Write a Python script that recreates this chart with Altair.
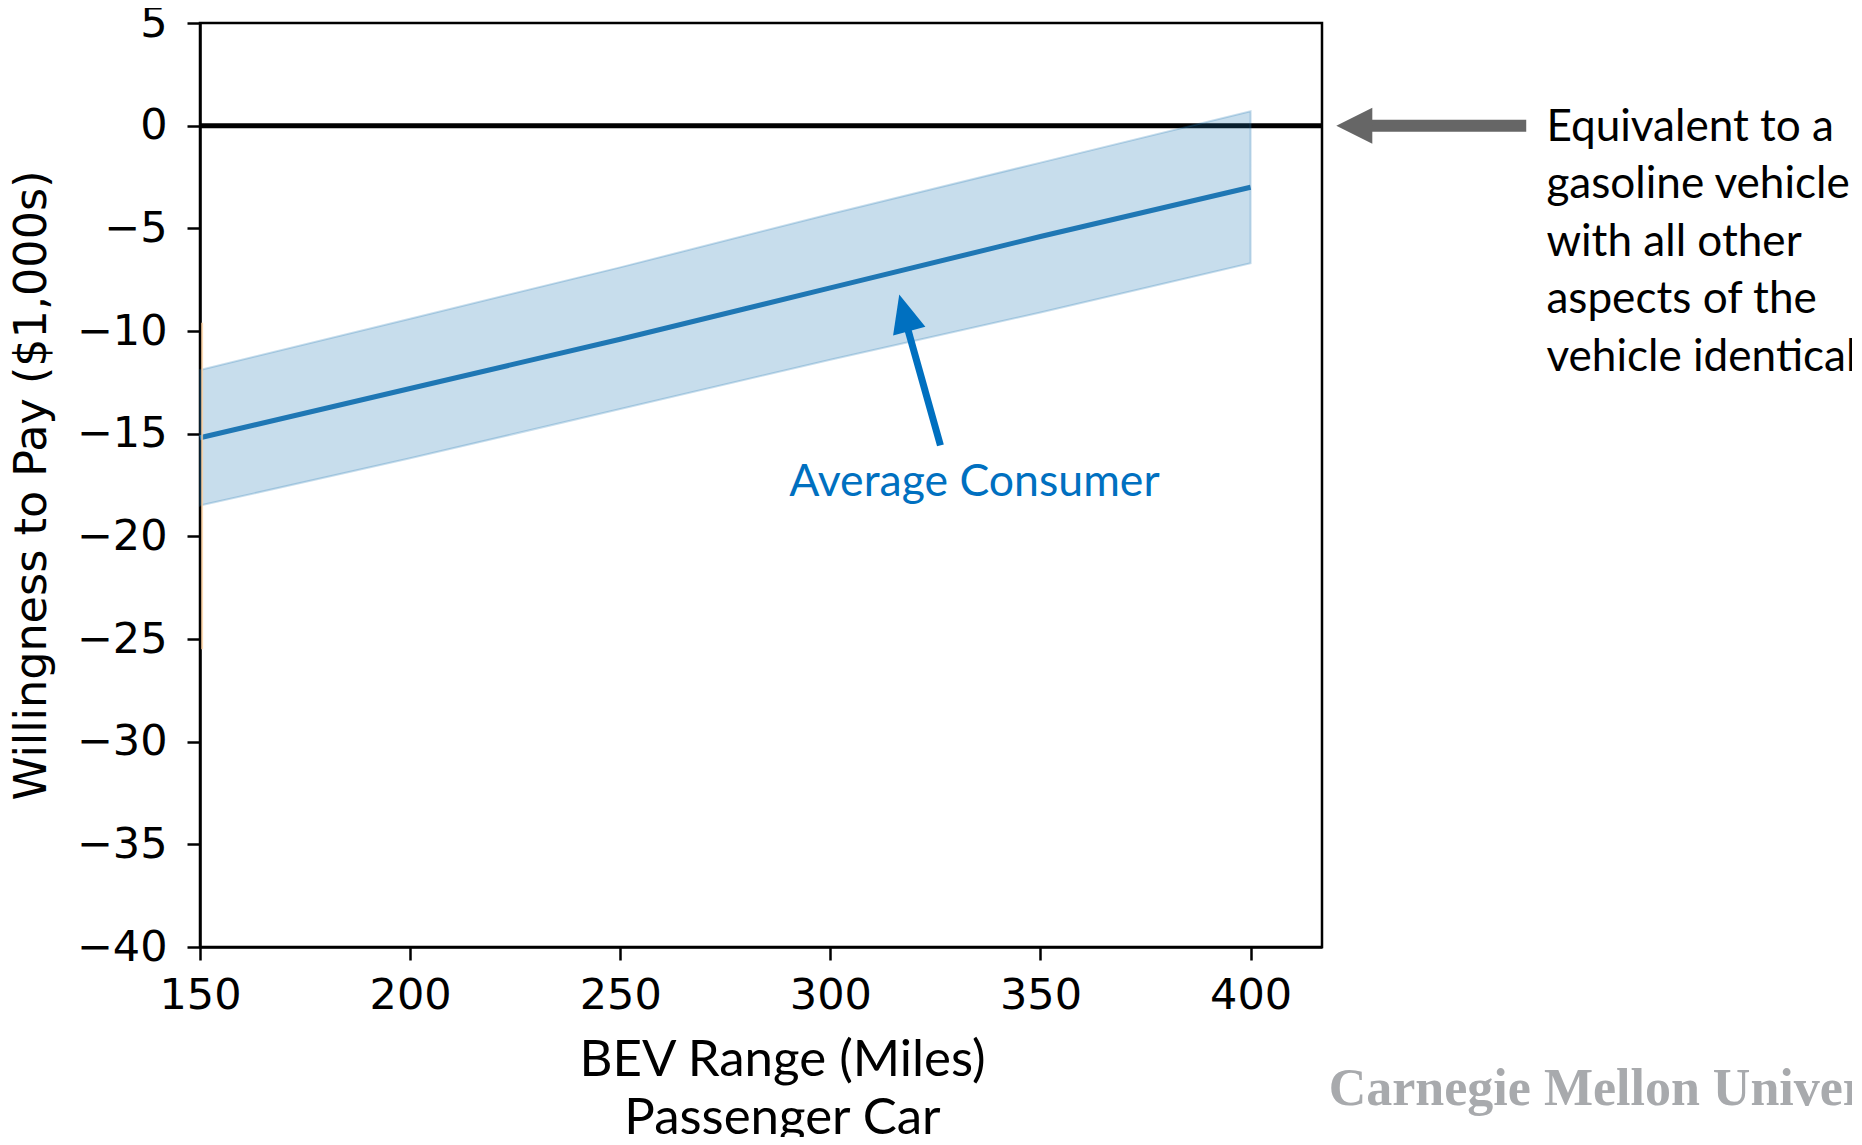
import altair as alt
import pandas as pd

# ---- data ----
range_miles = [150, 200, 250, 300, 350, 400]
wtp_mean = [-15.2, -12.8, -10.4, -7.9, -5.4, -3.0]
wtp_upper = [-11.9, -9.4, -6.9, -4.3, -1.8, 0.7]
wtp_lower = [-18.5, -16.2, -13.8, -11.4, -9.1, -6.7]

x_ticks = [150, 200, 250, 300, 350, 400]
y_ticks = [5, 0, -5, -10, -15, -20, -25, -30, -35, -40]
x_domain = [150, 417]
y_domain = [-40, 5]

# faint second (orange) series visible at the left edge
orange_x = [150.5]
orange_low = [-25.5]
orange_high = [-9.6]

# annotations (anchored in data units)
zero_ref = [0]
gray_arrow_x = [465.6]
gray_arrow_x2 = [428.0]
gray_tip_x = [420.4]
note_lines = ["Equivalent to a", "gasoline vehicle", "with all other",
              "aspects of the", "vehicle identical"]
note_x = [470.4]
note_y = [-0.1]
blue_tail = [326.2, -15.57]
blue_mid = [318.0, -9.6]
blue_tip = [316.4, -8.22]
avg_label = ["Average Consumer"]
avg_pos = [334.3, -17.4]
cmu_label = ["Carnegie Mellon University"]
cmu_pos = [418.6, -46.9]

TAB_BLUE = "#1f77b4"
LABEL_BLUE = "#0070C0"

x_axis = alt.Axis(
    values=x_ticks, format="d", grid=False, labelFlush=False, labelOverlap=False,
    labelFont="DejaVu Sans", labelFontSize=43, labelColor="black", labelPadding=14,
    tickSize=13, tickWidth=2.5, tickColor="black", domainColor="black", domainWidth=2.5,
    title=["BEV Range (Miles)", "Passenger Car"], titleFont="Lato", titleFontSize=51,
    titleFontWeight="normal", titleColor="black", titleX=582, titleY=128,
    titleAlign="center", titleBaseline="alphabetic", titleLineHeight=58,
)
y_axis = alt.Axis(
    values=y_ticks, format="d", grid=False, labelFlush=False, labelOverlap=False,
    labelFont="DejaVu Sans", labelFontSize=43, labelColor="black", labelPadding=20,
    tickSize=13, tickWidth=2.5, tickColor="black", domainColor="black", domainWidth=2.5,
    title="Willingness to Pay ($1,000s)", titleFont="DejaVu Sans", titleFontSize=44.5,
    titleFontWeight="normal", titleColor="black", titleAngle=270, titleX=-168, titleY=462,
    titleAlign="center", titleBaseline="middle",
)
xs = alt.Scale(domain=x_domain, nice=False, zero=False)
ys = alt.Scale(domain=y_domain, nice=False, zero=False)


def X(f):
    return alt.X(f, type="quantitative", scale=xs, axis=x_axis)


def Y(f):
    return alt.Y(f, type="quantitative", scale=ys, axis=y_axis)


band_df = pd.DataFrame({"x": range_miles, "mean": wtp_mean, "upper": wtp_upper, "lower": wtp_lower})

zero_line = alt.Chart(pd.DataFrame({"y": zero_ref})).mark_rule(
    color="black", strokeWidth=5
).encode(y=Y("y"))

band = alt.Chart(band_df).mark_area(
    color=TAB_BLUE, fillOpacity=0.25, stroke=TAB_BLUE, strokeOpacity=0.25, strokeWidth=2
).encode(x=X("x"), y=Y("upper"), y2="lower")

mean_line = alt.Chart(band_df).mark_line(color=TAB_BLUE, strokeWidth=5).encode(
    x=X("x"), y=Y("mean")
)

orange = alt.Chart(pd.DataFrame({"x": orange_x, "lo": orange_low, "hi": orange_high})).mark_rule(
    color="#fbcf9f", strokeWidth=2, opacity=0.8
).encode(x=X("x"), y=Y("lo"), y2="hi")

blue_shaft = alt.Chart(pd.DataFrame({
    "x": [blue_tail[0]], "y": [blue_tail[1]], "x2": [blue_mid[0]], "y2": [blue_mid[1]]
})).mark_rule(color=LABEL_BLUE, strokeWidth=7).encode(
    x=X("x"), y=Y("y"), x2="x2", y2="y2"
)
blue_head = alt.Chart(pd.DataFrame({"x": [blue_tip[0]], "y": [blue_tip[1]]})).mark_point(
    shape="M0,0L-0.44,1L0.44,1Z", size=5776, angle=344.8, filled=True,
    color=LABEL_BLUE, opacity=1, strokeWidth=0
).encode(x=X("x"), y=Y("y"))

gray_shaft = alt.Chart(pd.DataFrame({"x": gray_arrow_x, "x2": gray_arrow_x2, "y": zero_ref})).mark_rule(
    color="#666666", strokeWidth=12
).encode(x=X("x"), x2="x2", y=Y("y"))
gray_head = alt.Chart(pd.DataFrame({"x": gray_tip_x, "y": zero_ref})).mark_point(
    shape="M0,0L-0.5,1L0.5,1Z", size=5184, angle=270, filled=True,
    color="#666666", opacity=1, strokeWidth=0
).encode(x=X("x"), y=Y("y"))

note = alt.Chart(pd.DataFrame({"x": note_x, "y": note_y, "t": ["\n".join(note_lines)]})).mark_text(
    align="left", baseline="middle", lineBreak="\n", lineHeight=57.5,
    font="Lato", fontSize=44.1, color="black"
).encode(x=X("x"), y=Y("y"), text="t:N")

avg = alt.Chart(pd.DataFrame({"x": [avg_pos[0]], "y": [avg_pos[1]], "t": avg_label})).mark_text(
    align="center", baseline="middle", font="Lato", fontSize=44.6, color=LABEL_BLUE
).encode(x=X("x"), y=Y("y"), text="t:N")

cmu = alt.Chart(pd.DataFrame({"x": [cmu_pos[0]], "y": [cmu_pos[1]], "t": cmu_label})).mark_text(
    align="left", baseline="middle", font="Liberation Serif", fontWeight="bold",
    fontSize=52, color="#a8aaad"
).encode(x=X("x"), y=Y("y"), text="t:N")

chart = alt.layer(
    zero_line, band, mean_line, orange, blue_shaft, blue_head, gray_shaft, gray_head, note, avg, cmu
).properties(
    width=1122, height=924,
    background="white",
    autosize=alt.AutoSizeParams(type="none"),
    padding={"left": 192, "top": 15, "right": 530, "bottom": 190},
).configure_view(
    stroke="black", strokeWidth=2.5
)

chart.save("out.html", embed_options={"renderer": "svg", "actions": False})
